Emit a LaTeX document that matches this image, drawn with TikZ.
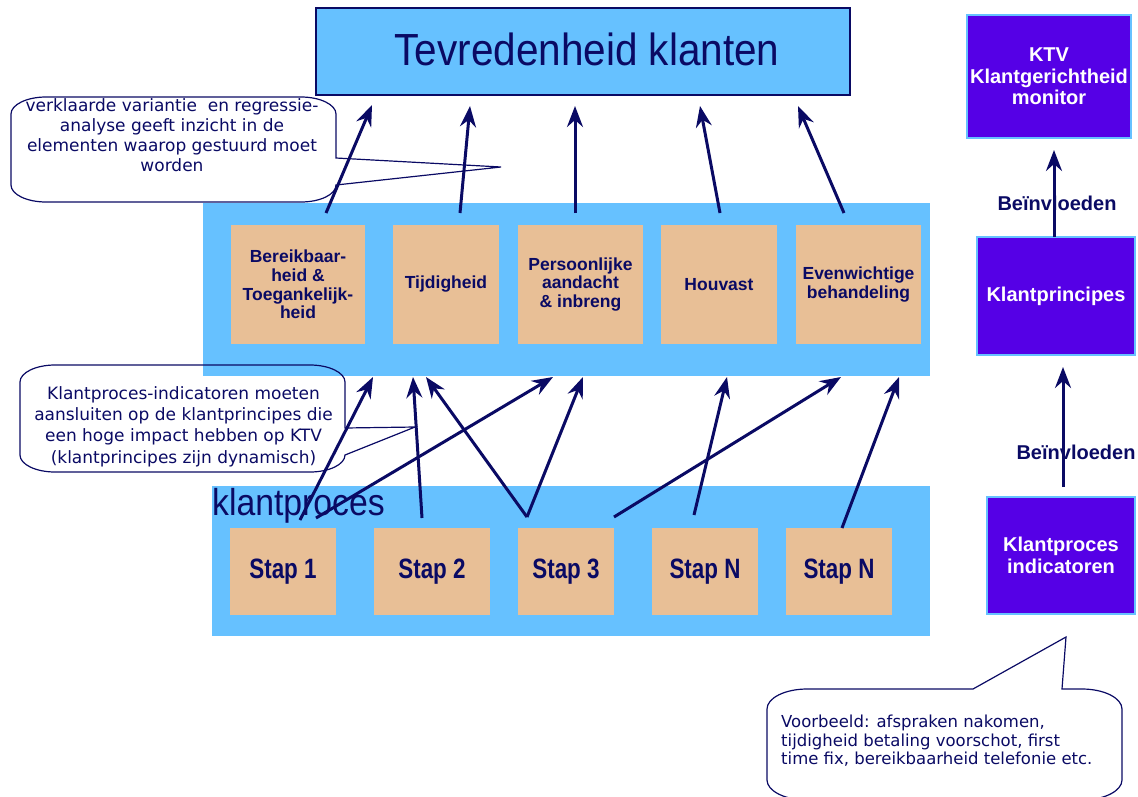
\documentclass[tikz,border=0pt]{standalone}
\usepackage{fontspec}
\setmainfont{Liberation Sans}
\newfontfamily\narrowsans[FakeStretch=0.9]{Liberation Sans}
\newfontfamily\stapsans[FakeStretch=0.8]{Liberation Sans}
\newfontfamily\callfont{DejaVu Sans}
\usetikzlibrary{arrows.meta}
\definecolor{bandblue}{RGB}{102,193,255}
\definecolor{tanc}{RGB}{232,191,150}
\definecolor{navyc}{RGB}{10,10,100}
\definecolor{purplec}{RGB}{85,0,230}
\begin{document}
\begin{tikzpicture}[x=1pt,y=-1pt,
  band/.style={fill=bandblue,draw=none,inner sep=0},
  tanbox/.style={fill=tanc,draw=none,inner sep=0,text=navyc,align=center,
    font=\bfseries\fontsize{17.5}{18.8}\selectfont},
  stapbox/.style={fill=tanc,draw=none,inner sep=0,text=navyc,
    font=\stapsans\bfseries\fontsize{28}{30}\selectfont},
  purplebox/.style={fill=purplec,draw=bandblue,line width=1.2pt,inner sep=0,
    text=white,align=center,font=\bfseries\fontsize{20}{21.5}\selectfont},
  conn/.style={draw=navyc,line width=3pt,
    -{Stealth[length=21pt,width=16pt,inset=7pt]}},
  callout/.style={draw=navyc,line width=1.2pt},
  calltext/.style={inner sep=0,text=navyc,font=\callfont\fontsize{17}{20}\selectfont},
  infl/.style={inner sep=0,text=navyc,font=\bfseries\fontsize{20}{22}\selectfont}]
\clip (0,0) rectangle (1138,796);
\useasboundingbox (0,0) rectangle (1138,796);

% title box
\node[fill=bandblue,draw=navyc,line width=1.2pt,inner sep=0,
  minimum width=534,minimum height=87] (tev) at (583,51.5) {};
\node[anchor=base,inner sep=0,text=navyc,
  font=\narrowsans\fontsize{45}{48}\selectfont] (tevtxt) at (587,65) {Tevredenheid klanten};

% bands
\node[band,minimum width=727,minimum height=173] (midband) at (566.5,289.5) {};
\node[band,minimum width=718,minimum height=150] (botband) at (571,561) {};

% principle boxes
\node[tanbox,minimum width=134,minimum height=119] (p1) at (298,284.5)
  {Bereikbaar-\\heid \&\\Toegankelijk-\\heid};
\node[tanbox,minimum width=106,minimum height=119] (p2) at (446,284.5) {Tijdigheid};
\node[tanbox,minimum width=125,minimum height=119] (p3) at (580.5,284.5)
  {Persoonlijke\\aandacht\\\& inbreng};
\node[tanbox,minimum width=116,minimum height=119] (p4) at (719,284.5) {Houvast};
\node[tanbox,minimum width=125,minimum height=119] (p5) at (858.5,284.5)
  {Evenwichtige\\behandeling};

% klantproces
\node[anchor=base west,inner sep=0,text=navyc,
  font=\narrowsans\fontsize{37.5}{40}\selectfont] (kptxt) at (212,515) {klantproces};
\node[stapbox,minimum width=106,minimum height=87] (s1) at (283,571.5) {Stap 1};
\node[stapbox,minimum width=116,minimum height=87] (s2) at (432,571.5) {Stap 2};
\node[stapbox,minimum width=96,minimum height=87] (s3) at (566,571.5) {Stap 3};
\node[stapbox,minimum width=106,minimum height=87] (s4) at (705,571.5) {Stap N};
\node[stapbox,minimum width=106,minimum height=87] (s5) at (839,571.5) {Stap N};

% right column
\node[purplebox,minimum width=164,minimum height=123] (ktv) at (1049,76.5)
  {KTV\\Klantgerichtheid\\monitor};
\node[purplebox,minimum width=158,minimum height=118] (kpr) at (1056,296) {Klantprincipes};
\node[purplebox,minimum width=148,minimum height=117] (kpi) at (1061,555.5)
  {Klantproces\\indicatoren};
\node[infl] (inf1) at (1057,203) {Beïnvloeden};
\node[infl] (inf2) at (1076,452) {Beïnvloeden};

% callouts
\draw[callout] (46,97) -- (301,97) .. controls (320.3,97) and (336,104.7) .. (336,114)
  -- (336,158) -- (501,167) -- (336,185)
  .. controls (336,194.4) and (320.3,202) .. (301,202) -- (46,202)
  .. controls (26.7,202) and (11,194.4) .. (11,185) -- (11,114)
  .. controls (11,104.7) and (26.7,97) .. (46,97) -- cycle;
\node[calltext,align=center] (c1) at (172,135)
  {verklaarde variantie \ en regressie-\\analyse geeft inzicht in de\\elementen waarop gestuurd moet\\worden};

\draw[callout] (55,365) -- (310,365) .. controls (329.3,365) and (345,372.7) .. (345,382)
  -- (345,428) -- (415,427) -- (345,455)
  .. controls (345,464.4) and (329.3,472) .. (310,472) -- (55,472)
  .. controls (35.7,472) and (20,464.4) .. (20,455) -- (20,382)
  .. controls (20,372.7) and (35.7,365) .. (55,365) -- cycle;
\node[calltext,align=center,font=\callfont\fontsize{17}{21.3}\selectfont] (c2) at (183.5,426.5)
  {Klantproces-indicatoren moeten\\aansluiten op de klantprincipes die\\een hoge impact hebben op KTV\\(klantprincipes zijn dynamisch)};

\draw[callout] (807,689) -- (973,689) -- (1066,637) -- (1062,689) -- (1082,689)
  .. controls (1104,689) and (1122,698) .. (1122,709) -- (1122,780)
  .. controls (1122,791) and (1104,800) .. (1082,800) -- (807,800)
  .. controls (785,800) and (767,791) .. (767,780) -- (767,709)
  .. controls (767,698) and (785,689) .. (807,689) -- cycle;
\node[calltext,align=left,anchor=west,font=\callfont\fontsize{16.5}{18.5}\selectfont] (c3) at (781,741)
  {Voorbeeld: afspraken nakomen,\\tijdigheid betaling voorschot, first\\time fix, bereikbaarheid telefonie etc.};

% arrow end points
\coordinate (u1a) at (326,213); \coordinate (u1b) at (372,105);
\coordinate (u2a) at (460,213); \coordinate (u2b) at (470,106);
\coordinate (u3a) at (575,213); \coordinate (u3b) at (575,106);
\coordinate (u4a) at (720,213); \coordinate (u4b) at (700,106);
\coordinate (u5a) at (844,213); \coordinate (u5b) at (798,106);
\coordinate (b1a) at (300,520); \coordinate (b1b) at (373,377);
\coordinate (b2a) at (316,518); \coordinate (b2b) at (553,377);
\coordinate (b3a) at (422,518); \coordinate (b3b) at (413,377);
\coordinate (b4a) at (527,517); \coordinate (b4b) at (426,377);
\coordinate (b5b) at (583,377);
\coordinate (b6a) at (614,517); \coordinate (b6b) at (841,377);
\coordinate (b7a) at (694,515); \coordinate (b7b) at (727,377);
\coordinate (b8a) at (842,528); \coordinate (b8b) at (899,377);
\coordinate (r1a) at (1054,237); \coordinate (r1b) at (1054,150);
\coordinate (r2a) at (1063,487); \coordinate (r2b) at (1063,367);

\draw[conn] (u1a) -- (u1b);
\draw[conn] (u2a) -- (u2b);
\draw[conn] (u3a) -- (u3b);
\draw[conn] (u4a) -- (u4b);
\draw[conn] (u5a) -- (u5b);
\draw[conn] (b1a) -- (b1b);
\draw[conn] (b2a) -- (b2b);
\draw[conn] (b3a) -- (b3b);
\draw[conn] (b4a) -- (b4b);
\draw[conn] (b4a) -- (b5b);
\draw[conn] (b6a) -- (b6b);
\draw[conn] (b7a) -- (b7b);
\draw[conn] (b8a) -- (b8b);
\draw[conn] (r1a) -- (r1b);
\draw[conn] (r2a) -- (r2b);
\end{tikzpicture}
\end{document}
